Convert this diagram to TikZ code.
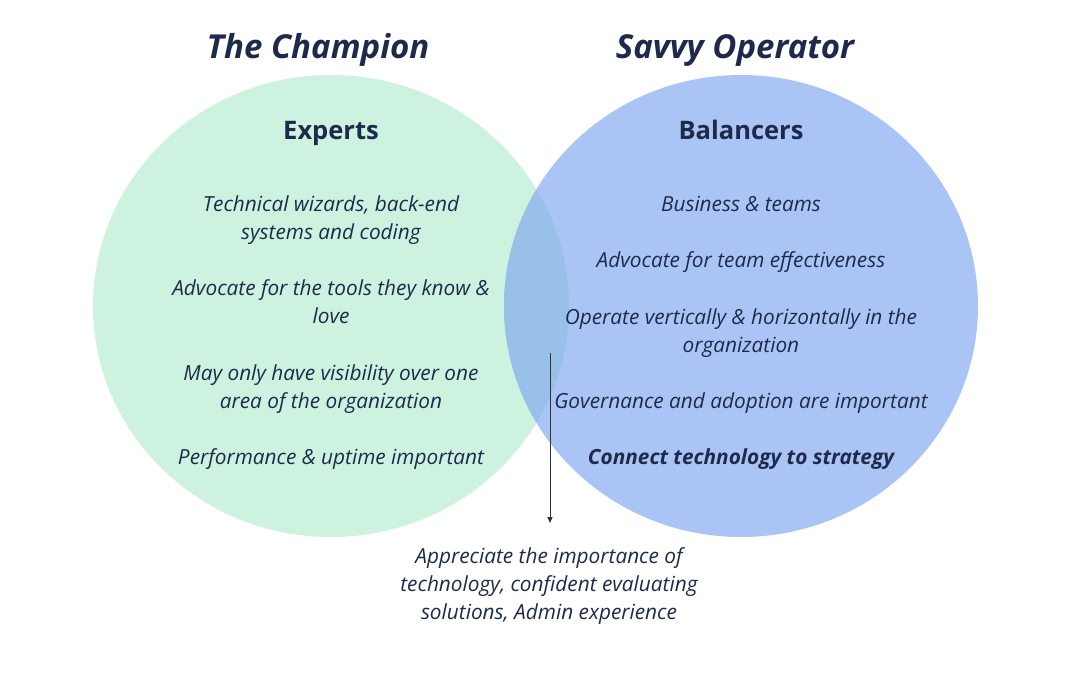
\documentclass[tikz,border=0pt]{standalone}
\usepackage{fontspec}
\setmainfont{Open Sans}
\usetikzlibrary{arrows.meta}
\definecolor{txt}{RGB}{30,42,76}
\definecolor{gfill}{RGB}{205,242,223}
\definecolor{bfill}{RGB}{170,196,245}
\definecolor{ofill}{RGB}{152,192,232}
\tikzset{
  title/.style={font=\fontsize{33}{38}\selectfont\bfseries\itshape, text=txt, inner sep=0pt},
  head/.style={font=\fontsize{25.5}{30}\selectfont\bfseries, text=txt, inner sep=0pt},
  item/.style={font=\fontsize{20.8}{28}\selectfont\itshape, text=txt, align=center, inner sep=0pt},
  bolditem/.style={font=\fontsize{20.8}{28}\selectfont\bfseries\itshape, text=txt, align=center, inner sep=0pt},
  arr/.style={draw=black!80, line width=0.9pt, -{Triangle[length=6pt,width=5pt]}}
}
\begin{document}
\begin{tikzpicture}[x=1pt,y=-1pt]
\useasboundingbox (0,0) rectangle (1080,675);
\fill[white] (0,0) rectangle (1080,675);
% circles
\fill[gfill] (331,306) ellipse [x radius=238, y radius=231];
\fill[bfill] (741,306) ellipse [x radius=237, y radius=231];
\begin{scope}
  \clip (331,306) ellipse [x radius=238, y radius=231];
  \fill[ofill] (741,306) ellipse [x radius=237, y radius=231];
\end{scope}
% titles
\node[title] (t1) at (318,50) {The Champion};
\node[title] (t2) at (735,50) {Savvy Operator};
\node[head] (h1) at (331,133) {Experts};
\node[head] (h2) at (741,130) {Balancers};
% left items
\node[item] (l1) at (331,220) {Technical wizards, back-end\\systems and coding};
\node[item] (l2) at (331,302) {Advocate for the tools they know \&\\love};
\node[item] (l3) at (331,389) {May only have visibility over one\\area of the organization};
\node[item] (l4) at (331,459) {Performance \& uptime important};
% right items
\node[item] (r1) at (741,204) {Business \& teams};
\node[item] (r2) at (741,262) {Advocate for team effectiveness};
\node[item] (r3) at (741,333) {Operate vertically \& horizontally in the\\organization};
\node[item] (r4) at (741,403) {Governance and adoption are important};
\node[bolditem] (r5) at (741,459) {Connect technology to strategy};
% bottom
\coordinate (a0) at (550,353);
\node[item] (b1) at (549,586) {Appreciate the importance of\\technology, confident evaluating\\solutions, Admin experience};
\draw[arr] (a0) -- (550,523);
\end{tikzpicture}
\end{document}
